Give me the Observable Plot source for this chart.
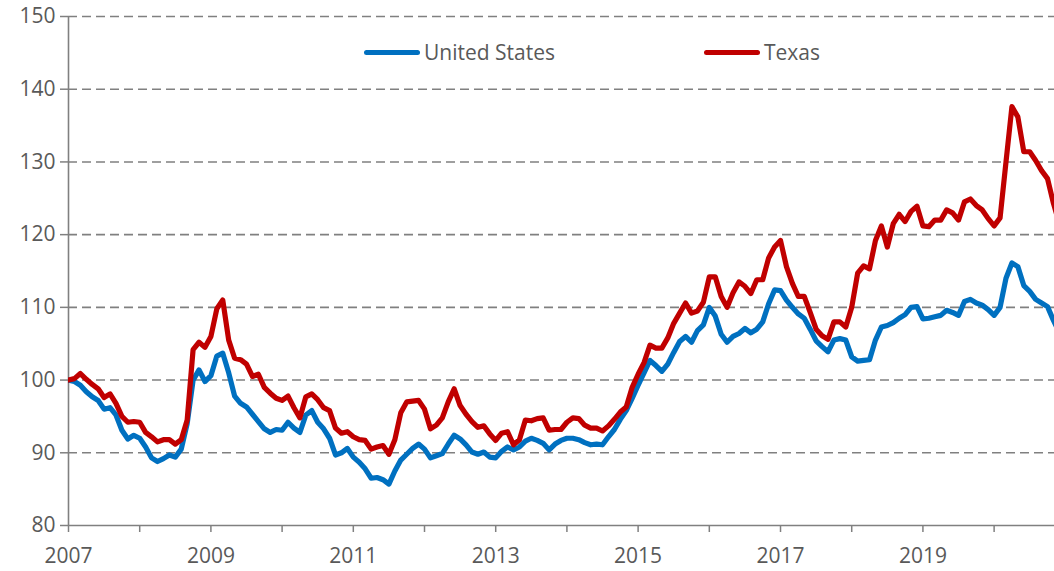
<!DOCTYPE html>
<html>
<head>
<meta charset="utf-8">
<script src="https://cdn.jsdelivr.net/npm/d3@7"></script>
<script src="https://cdn.jsdelivr.net/npm/@observablehq/plot@0.6"></script>
<style>
  html, body { margin: 0; padding: 0; background: #fff; }
  #wrap { position: relative; width: 1054px; height: 571px; overflow: hidden; }
  .legend { position: absolute; top: 38px; left: 0; font-family: "Open Sans", sans-serif; font-size: 21px; color: #595959; }
  .item { position: absolute; display: flex; align-items: center; white-space: nowrap; }
  .swatch { display: inline-block; width: 56px; height: 5px; border-radius: 3px; margin-right: 4px; }
</style>
</head>
<body>
<div id="wrap"></div>
<script>
// Monthly index values, starting January 2007
const startYear = 2007;
const usValues = [
  100, 99.8, 99.3, 98.4, 97.7, 97.2, 96, 96.2, 95.2, 93.1, 91.9, 92.4,
  92, 90.8, 89.3, 88.8, 89.2, 89.7, 89.4, 90.5, 94, 100, 101.4, 99.8,
  100.6, 103.3, 103.7, 101, 97.8, 96.8, 96.3, 95.3, 94.3, 93.3, 92.8, 93.2,
  93.1, 94.2, 93.4, 92.8, 95.2, 95.8, 94.2, 93.3, 92, 89.7, 90, 90.6,
  89.4, 88.7, 87.8, 86.5, 86.6, 86.3, 85.7, 87.5, 89, 89.8, 90.6, 91.2,
  90.5, 89.3, 89.6, 89.9, 91.2, 92.4, 91.9, 91.1, 90.1, 89.8, 90.1, 89.4,
  89.3, 90.2, 90.8, 90.4, 90.8, 91.6, 92, 91.7, 91.3, 90.4, 91.2, 91.7,
  92, 92, 91.8, 91.4, 91.1, 91.2, 91.1, 92.2, 93.2, 94.6, 95.8, 97.5,
  99.3, 101, 102.7, 102, 101.2, 102.2, 103.8, 105.3, 106, 105.2, 106.8, 107.6,
  110, 108.8, 106.3, 105.2, 106, 106.4, 107.1, 106.5, 107, 108, 110.5, 112.4,
  112.3, 111, 110, 109.1, 108.5, 107, 105.4, 104.6, 103.9, 105.5, 105.7, 105.5,
  103.2, 102.6, 102.7, 102.8, 105.5, 107.3, 107.5, 107.9, 108.5, 109, 110, 110.1,
  108.4, 108.5, 108.7, 108.9, 109.6, 109.3, 108.9, 110.8, 111.1, 110.6, 110.3, 109.7,
  108.9, 110, 114, 116.1, 115.6, 113, 112.2, 111.1, 110.6, 110.1, 108.2, 106.5
];
const txValues = [
  100, 100.2, 100.9, 100.1, 99.4, 98.8, 97.6, 98.1, 96.8, 95, 94.2, 94.3,
  94.2, 92.8, 92.2, 91.5, 91.8, 91.8, 91.2, 91.8, 94.5, 104.2, 105.2, 104.5,
  106, 109.8, 111, 105.5, 103, 102.8, 102.2, 100.5, 100.8, 99, 98.2, 97.5,
  97.2, 97.8, 96.2, 94.8, 97.7, 98.1, 97.3, 96.2, 95.8, 93.4, 92.7, 92.9,
  92.2, 91.8, 91.7, 90.5, 90.8, 91, 89.8, 91.8, 95.5, 97, 97.1, 97.2,
  96, 93.3, 93.8, 94.8, 97, 98.8, 96.5, 95.3, 94.3, 93.5, 93.7, 92.6,
  91.7, 92.7, 92.9, 91.1, 91.8, 94.5, 94.4, 94.7, 94.8, 93.1, 93.2, 93.2,
  94.2, 94.8, 94.7, 93.8, 93.4, 93.4, 93, 93.7, 94.6, 95.6, 96.3, 99,
  100.8, 102.4, 104.8, 104.4, 104.4, 105.8, 107.8, 109.2, 110.6, 109.2, 109.5, 110.7,
  114.2, 114.2, 111.5, 110, 112, 113.5, 112.9, 111.9, 113.8, 113.8, 116.8, 118.3,
  119.2, 115.6, 113.3, 111.5, 111.5, 109.3, 107, 106.1, 105.6, 108, 108, 107.3,
  110, 114.7, 115.7, 115.3, 119.2, 121.2, 118.3, 121.5, 122.8, 121.8, 123.2, 123.9,
  121.2, 121.1, 122, 122, 123.4, 123, 122, 124.5, 124.9, 124, 123.4, 122.2,
  121.2, 122.3, 130, 137.6, 136.2, 131.4, 131.4, 130.2, 128.8, 127.7, 124.3, 121.5
];
const seriesNames = ["United States", "Texas"];
const seriesColors = ["#0070C0", "#C00000"];
const yTicks = [80, 90, 100, 110, 120, 130, 140, 150];
const xTicks = [2007, 2008, 2009, 2010, 2011, 2012, 2013, 2014, 2015, 2016, 2017, 2018, 2019, 2020];
const xEnd = 2020.848;

const toRows = (vals, name) => vals.map((v, i) => ({ t: startYear + i / 12, v, name }));
const usRows = toRows(usValues, seriesNames[0]);
const txRows = toRows(txValues, seriesNames[1]);

const chart = Plot.plot({
  width: 1054,
  height: 571,
  marginLeft: 68,
  marginRight: 0,
  marginTop: 16,
  marginBottom: 46,
  style: { fontFamily: "Open Sans, sans-serif", fontSize: "21px", background: "#fff", overflow: "visible" },
  x: { domain: [2007, xEnd] },
  y: { domain: [80, 150] },
  marks: [
    Plot.gridY(yTicks.filter(d => d > 80), { stroke: "#808080", strokeOpacity: 1, strokeWidth: 1.6, strokeDasharray: "9,5" }),
    Plot.axisY(yTicks, { tickSize: 8, tickPadding: 5, stroke: "#808080", strokeWidth: 1.5, fill: "#595959", label: null, tickFormat: d => String(d) }),
    Plot.axisX(xTicks, { tickSize: 7, tickPadding: 16, stroke: "#808080", strokeWidth: 1.5, fill: "#595959", label: null, tickFormat: d => (d % 2 === 1 ? String(d) : "") }),
    Plot.ruleX([2007], { stroke: "#808080", strokeWidth: 1.6 }),
    Plot.ruleY([80], { stroke: "#808080", strokeWidth: 1.6 }),
    Plot.line(usRows, { x: "t", y: "v", stroke: seriesColors[0], strokeWidth: 5.2, clip: true }),
    Plot.line(txRows, { x: "t", y: "v", stroke: seriesColors[1], strokeWidth: 5.2, clip: true })
  ]
});

const wrap = document.getElementById("wrap");
wrap.appendChild(chart);

// Legend (inside plot area, top)
const legend = document.createElement("div");
legend.className = "legend";
const legendLeft = [364, 704];
seriesNames.forEach((name, i) => {
  const item = document.createElement("div");
  item.className = "item";
  item.style.left = legendLeft[i] + "px";
  const sw = document.createElement("span");
  sw.className = "swatch";
  sw.style.background = seriesColors[i];
  const tx = document.createElement("span");
  tx.textContent = name;
  item.appendChild(sw);
  item.appendChild(tx);
  legend.appendChild(item);
});
wrap.appendChild(legend);
</script>
</body>
</html>
